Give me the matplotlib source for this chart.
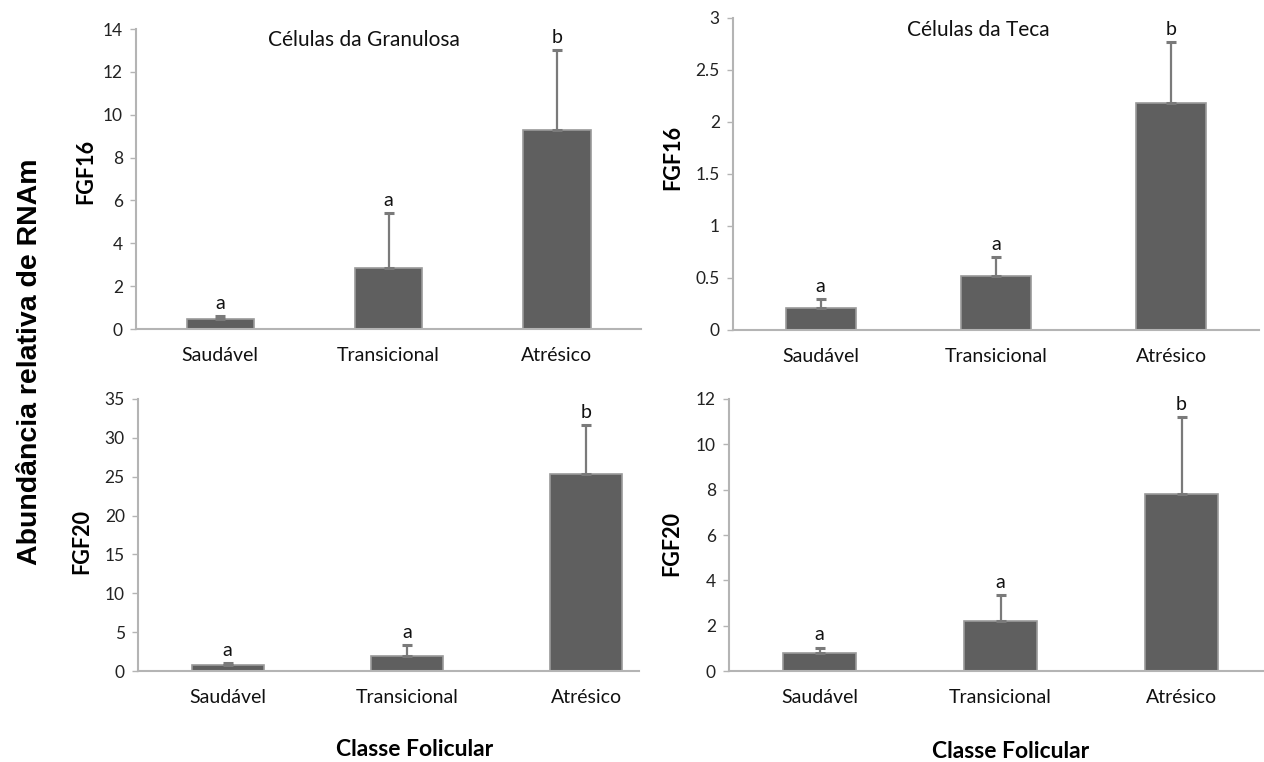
import matplotlib
matplotlib.use("Agg")
import matplotlib.pyplot as plt
import numpy as np

categories = ["Saudável", "Transicional", "Atrésico"]

gran_fgf16 = [0.47, 2.85, 9.30]
gran_fgf16_err = [0.13, 2.56, 3.70]
teca_fgf16 = [0.21, 0.52, 2.18]
teca_fgf16_err = [0.09, 0.18, 0.59]
gran_fgf20 = [0.78, 1.93, 25.4]
gran_fgf20_err = [0.25, 1.40, 6.25]
teca_fgf20 = [0.78, 2.22, 7.82]
teca_fgf20_err = [0.25, 1.13, 3.40]

letters_gran_fgf16 = ["a", "a", "b"]
letters_teca_fgf16 = ["a", "a", "b"]
letters_gran_fgf20 = ["a", "a", "b"]
letters_teca_fgf20 = ["a", "a", "b"]

yticks_gran_fgf16 = [0, 2, 4, 6, 8, 10, 12, 14]
yticks_teca_fgf16 = [0, 0.5, 1, 1.5, 2, 2.5, 3]
ytick_labels_teca_fgf16 = ["0", "0.5", "1", "1.5", "2", "2.5", "3"]
yticks_gran_fgf20 = [0, 5, 10, 15, 20, 25, 30, 35]
yticks_teca_fgf20 = [0, 2, 4, 6, 8, 10, 12]

FONT = "Lato"
BAR = "#5f5f5f"
EDGE = "#9a9a9a"
AXC = "#b4b4b4"

fig = plt.figure(figsize=(12.64, 7.62), dpi=100)

def W(px):
    return px / 1264.0

def H(py):
    return 1 - py / 762.0

def panel(rect_px, vals, errs, letters, yticks, ylabels=None, title=None,
          title_pos=None, spine_end_px=None):
    l, t, r, b = rect_px
    ax = fig.add_axes([W(l), H(b), W(r) - W(l), H(t) - H(b)])
    x = np.arange(len(categories))
    ax.bar(x, vals, width=0.40, color=BAR, edgecolor=EDGE, linewidth=1.2, zorder=2)
    ax.errorbar(x, vals, yerr=[np.zeros(len(vals)), errs], fmt="none",
                ecolor="#7a7a7a", elinewidth=1.6, capsize=3.5, capthick=2.2, zorder=3)
    for xi, v, e, s in zip(x, vals, errs, letters):
        ax.annotate(s, (xi, v + e), xytext=(0, 3), textcoords="offset points",
                    ha="center", va="bottom", fontsize=14, family=FONT, color="#111111")
    ax.set_xlim(-0.5, len(categories) - 0.5)
    ax.set_ylim(yticks[0], yticks[-1])
    ax.set_yticks(yticks)
    if ylabels is not None:
        ax.set_yticklabels(ylabels)
    ax.set_xticks(x)
    ax.set_xticklabels(categories)
    ax.tick_params(axis="x", length=0, pad=13, labelsize=14, labelcolor="#111111")
    ax.tick_params(axis="y", length=4.5, width=1, color=AXC, pad=5, labelsize=12.5,
                   labelcolor="#222222")
    for lab in ax.get_xticklabels() + ax.get_yticklabels():
        lab.set_family(FONT)
    for s in ["top", "right"]:
        ax.spines[s].set_visible(False)
    for s in ["left", "bottom"]:
        ax.spines[s].set_color(AXC)
        ax.spines[s].set_linewidth(1.5)
    if spine_end_px is not None:
        xe = -0.5 + (spine_end_px - l) / (r - l) * len(categories)
        ax.spines["bottom"].set_bounds(-0.5, xe)
    ax.set_facecolor("none")
    if title:
        ax.text(title_pos[0], title_pos[1], title, transform=ax.transAxes, ha="center",
                va="center", fontsize=15, family=FONT, color="#111111")
    return ax

panel((136, 29, 641, 329), gran_fgf16, gran_fgf16_err, letters_gran_fgf16,
      yticks_gran_fgf16, title="Células da Granulosa", title_pos=((364 - 136) / 505, 1 - 11 / 300))
panel((733, 18, 1259, 330), teca_fgf16, teca_fgf16_err, letters_teca_fgf16,
      yticks_teca_fgf16, ylabels=ytick_labels_teca_fgf16,
      title="Células da Teca", title_pos=((978 - 733) / 526, 1 - 12 / 312))
panel((138, 399, 676, 671), gran_fgf20, gran_fgf20_err, letters_gran_fgf20,
      yticks_gran_fgf20, spine_end_px=639)
panel((729, 399, 1272, 671), teca_fgf20, teca_fgf20_err, letters_teca_fgf20, yticks_teca_fgf20)

lab_kw = dict(rotation=90, ha="center", va="center", fontsize=15.5, fontweight="bold", family=FONT)
fig.text(W(86), H(171), "FGF16", **lab_kw)
fig.text(W(673), H(157), "FGF16", **lab_kw)
fig.text(W(82), H(541), "FGF20", **lab_kw)
fig.text(W(672), H(544), "FGF20", **lab_kw)
fig.text(W(415), H(749), "Classe Folicular", ha="center", va="center",
         fontsize=16.5, fontweight="bold", family=FONT)
fig.text(W(1011), H(752), "Classe Folicular", ha="center", va="center",
         fontsize=16.5, fontweight="bold", family=FONT)
fig.text(W(30), H(362), "Abundância relativa de RNAm", rotation=90, ha="center",
         va="center", fontsize=20.5, fontweight="bold", family="Liberation Sans")

fig.savefig("out.png", dpi=100)
